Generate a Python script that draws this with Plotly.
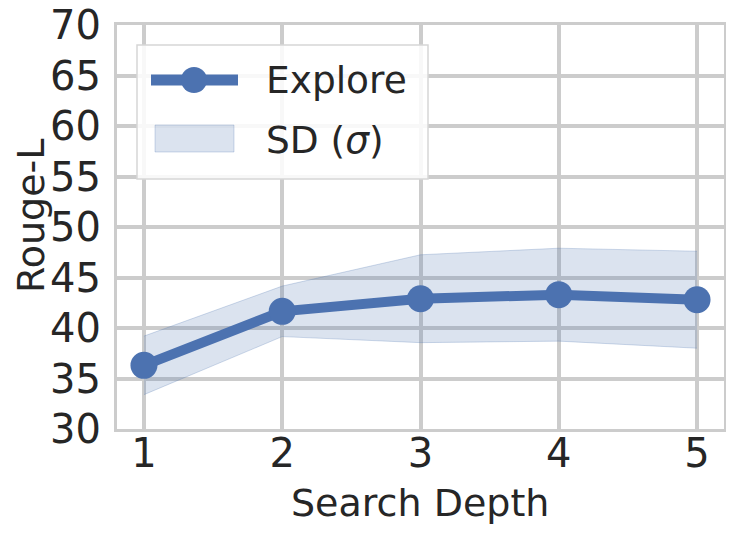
import plotly.graph_objects as go

depth = [1, 2, 3, 4, 5]
rouge_mean = [36.3, 41.65, 42.9, 43.3, 42.8]
rouge_sd = [2.9, 2.5, 4.35, 4.6, 4.8]
y_ticks = [30, 35, 40, 45, 50, 55, 60, 65, 70]

upper = [m + s for m, s in zip(rouge_mean, rouge_sd)]
lower = [m - s for m, s in zip(rouge_mean, rouge_sd)]

BLUE = "#4c72b0"
BAND = "rgba(76,114,176,0.2)"
TXT = "#262626"
GRID = "#cccccc"
FONT = "DejaVu Sans"
FS_TICK = 40
FS_LAB = 38
FS_LEG = 37.5

# page has an 8px body margin; figure is placed at (8, 8)
OFF = 8
W, H = 718, 518
# target plot area in window pixels: x 117..724, y 25..429
L, R, T, B = 117 - OFF, (OFF + W) - 724, 25 - OFF, (OFF + H) - 429
PW, PH = W - L - R, H - T - B

def px(x):
    return (x - OFF - L) / PW

def py(y):
    return (OFF + H - B - y) / PH

fig = go.Figure()
fig.add_trace(go.Scatter(x=depth, y=upper, mode="lines",
                         line=dict(color="rgba(76,114,176,0.25)", width=1),
                         showlegend=False, hoverinfo="skip"))
fig.add_trace(go.Scatter(x=depth, y=lower, mode="lines", fill="tonexty",
                         fillcolor=BAND,
                         line=dict(color="rgba(76,114,176,0.25)", width=1),
                         showlegend=False, hoverinfo="skip"))
fig.add_trace(go.Scatter(x=depth, y=rouge_mean, mode="lines+markers",
                         line=dict(color=BLUE, width=10),
                         marker=dict(color=BLUE, size=27),
                         showlegend=False))

# custom legend
fig.add_shape(type="rect", xref="paper", yref="paper",
              x0=px(137), x1=px(428), y0=py(179), y1=py(45),
              line=dict(color="#d6d6d6", width=1.5), fillcolor="rgba(255,255,255,0.85)",
              layer="above")
fig.add_shape(type="line", xref="paper", yref="paper",
              x0=px(151), x1=px(238), y0=py(80), y1=py(80),
              line=dict(color=BLUE, width=11), layer="above")
fig.add_shape(type="circle", xref="paper", yref="paper",
              x0=px(194 - 13), x1=px(194 + 13), y0=py(80 + 13), y1=py(80 - 13),
              line=dict(width=0), fillcolor=BLUE, layer="above")
fig.add_shape(type="rect", xref="paper", yref="paper",
              x0=px(155), x1=px(234), y0=py(152), y1=py(125),
              line=dict(color="rgba(76,114,176,0.25)", width=1), fillcolor=BAND,
              layer="above")
fig.add_annotation(xref="paper", yref="paper", x=px(264), y=py(80),
                   text="Explore", showarrow=False, xanchor="left", yanchor="middle",
                   font=dict(family=FONT, size=FS_LEG, color=TXT))
fig.add_annotation(xref="paper", yref="paper", x=px(264), y=py(140),
                   text="SD (<i>σ</i>)", showarrow=False, xanchor="left", yanchor="middle",
                   font=dict(family=FONT, size=FS_LEG, color=TXT))

# axis titles
fig.add_annotation(xref="paper", yref="paper", x=px(420), y=py(503),
                   text="Search Depth", showarrow=False, xanchor="center", yanchor="middle",
                   font=dict(family=FONT, size=FS_LAB, color=TXT))
fig.add_annotation(xref="paper", yref="paper", x=px(31), y=py(216),
                   text="Rouge-L", showarrow=False, xanchor="center", yanchor="middle",
                   textangle=-90,
                   font=dict(family=FONT, size=FS_LAB, color=TXT))

fig.update_layout(
    width=W, height=H,
    margin=dict(l=L, r=R, t=T, b=B),
    paper_bgcolor="white", plot_bgcolor="white",
    font=dict(family=FONT, size=FS_TICK, color=TXT),
    showlegend=False,
)
fig.update_xaxes(range=[0.805, 5.195], tickvals=depth, ticktext=[str(d) for d in depth],
                 showgrid=True, gridcolor=GRID, gridwidth=4,
                 showline=True, linecolor=GRID, linewidth=3, mirror=True,
                 zeroline=False, ticks="", ticklabelstandoff=-13, automargin=False,
                 ticklabeloverflow="allow",
                 tickfont=dict(family=FONT, size=FS_TICK, color=TXT))
fig.update_yaxes(range=[30, 70], tickvals=y_ticks,
                 showgrid=True, gridcolor=GRID, gridwidth=4,
                 showline=True, linecolor=GRID, linewidth=3, mirror=True,
                 zeroline=False, ticks="", ticklabelstandoff=5, automargin=False,
                 ticklabeloverflow="allow",
                 tickfont=dict(family=FONT, size=FS_TICK, color=TXT))

fig.write_html("out.html")
